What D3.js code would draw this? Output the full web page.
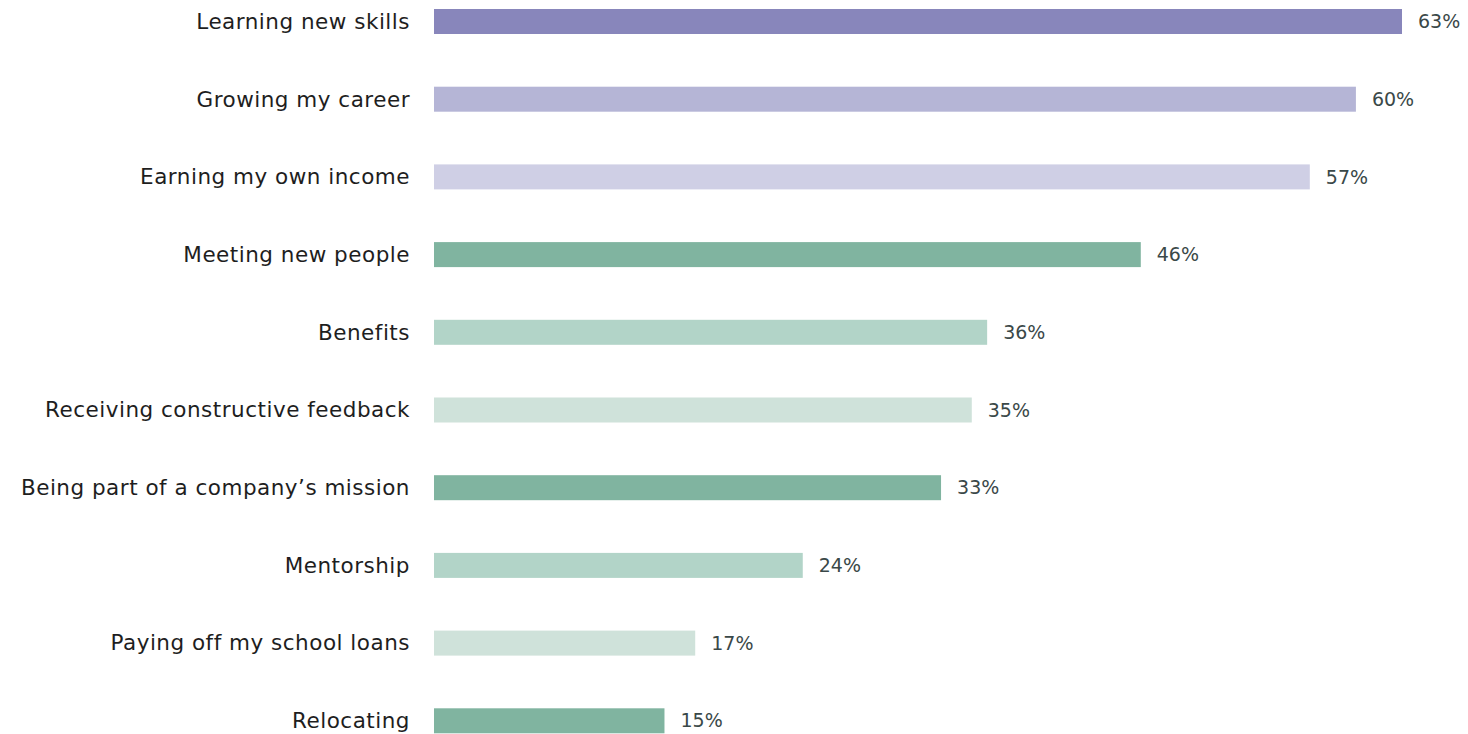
<!DOCTYPE html>
<html>
<head>
<meta charset="utf-8">
<script src="https://cdn.jsdelivr.net/npm/d3@7"></script>
<style>
  html, body { margin: 0; padding: 0; background: #ffffff; }
  svg { display: block; }
</style>
</head>
<body>
<svg id="chart" width="1468" height="734"></svg>
<script>
// What matters most, share of respondents (%)
const categories = [
  "Learning new skills",
  "Growing my career",
  "Earning my own income",
  "Meeting new people",
  "Benefits",
  "Receiving constructive feedback",
  "Being part of a company\u2019s mission",
  "Mentorship",
  "Paying off my school loans",
  "Relocating"
];
const values = [63, 60, 57, 46, 36, 35, 33, 24, 17, 15];
const barColors = [
  "#8886bb", "#b5b5d6", "#cfcfe5",
  "#80b4a0", "#b2d4c8", "#cfe2da",
  "#80b4a0", "#b2d4c8", "#cfe2da",
  "#80b4a0"
];

const svg = d3.select("#chart");
const fontFamily = "'DejaVu Sans', 'Open Sans', sans-serif";

const x = d3.scaleLinear().domain([0, 63]).range([434, 1402]);
const y = d3.scalePoint().domain(categories).range([21.5, 720.8]);
const barH = 25;

const rows = svg.selectAll("g.row")
  .data(categories.map((c, i) => ({ cat: c, val: values[i], color: barColors[i] })))
  .join("g")
  .attr("class", "row");

rows.append("rect")
  .attr("x", x(0))
  .attr("y", d => y(d.cat) - barH / 2)
  .attr("width", d => x(d.val) - x(0))
  .attr("height", barH)
  .attr("fill", d => d.color);

rows.append("text")
  .attr("x", 410)
  .attr("y", d => y(d.cat))
  .attr("dy", "0.34em")
  .attr("text-anchor", "end")
  .attr("font-family", fontFamily)
  .attr("font-size", 21.5)
  .attr("letter-spacing", 0.5)
  .attr("fill", "#1e1e1e")
  .text(d => d.cat);

rows.append("text")
  .attr("x", d => x(d.val) + 16)
  .attr("y", d => y(d.cat))
  .attr("dy", "0.35em")
  .attr("font-family", fontFamily)
  .attr("font-size", 19)
  .attr("fill", "#3a4848")
  .text(d => d.val + "%");
</script>
</body>
</html>
